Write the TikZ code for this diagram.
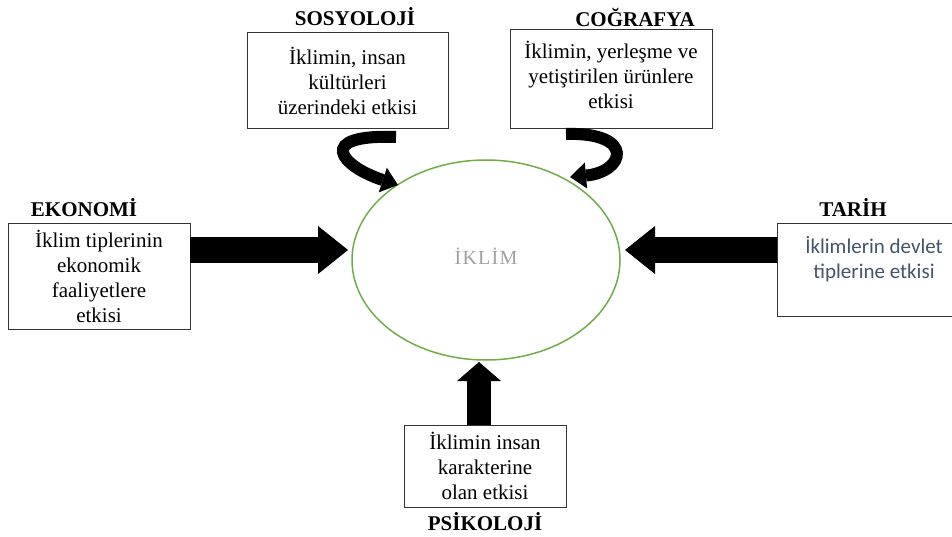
\documentclass[tikz,border=0pt]{standalone}
\usepackage{fontspec}
\setmainfont{Liberation Serif}
\newfontfamily\tnr{Liberation Serif}
\newfontfamily\calib{Carlito}
\newfontfamily\spaced[LetterSpace=6]{Liberation Serif}
\usetikzlibrary{arrows.meta,shapes.geometric}
\definecolor{grn}{RGB}{112,173,71}
\definecolor{tblue}{RGB}{68,84,106}
\definecolor{igray}{RGB}{160,160,160}
\begin{document}
\begin{tikzpicture}[x=1pt,y=-1pt,
 box/.style={draw=black!80, line width=0.9pt, align=center, inner sep=0pt, font=\tnr\fontsize{21}{25}\selectfont},
 head/.style={font=\tnr\bfseries\fontsize{21}{25}\selectfont, inner sep=0pt},
 blockarrow/.style={line width=25pt, -{Triangle[width=48pt,length=30pt,line width=0pt]}},
 curvearrow/.style={line width=12pt, -{Triangle[width=26pt,length=16pt,line width=0pt]}}]
\useasboundingbox (0,0) rectangle (952,537);

\node[box, minimum width=201pt, minimum height=96pt] (sos) at (347.5,80.5) {İklimin, insan\\kültürleri\\üzerindeki etkisi};
\node[box, minimum width=202pt, minimum height=99pt] (cog) at (611,78.5) {\raisebox{6pt}{\begin{tabular}{@{}c@{}}İklimin, yerleşme ve\\yetiştirilen ürünlere\\etkisi\end{tabular}}};
\node[box, minimum width=182pt, minimum height=106pt] (eko) at (99,276) {İklim tiplerinin\\ekonomik\\faaliyetlere\\etkisi};
\node[box, minimum width=194pt, minimum height=93pt, font=\calib\fontsize{21}{25}\selectfont, text=tblue] (tar) at (874,269.5) {İklimlerin devlet\\tiplerine etkisi\\\mbox{}};
\node[box, minimum width=162pt, minimum height=82pt] (psi) at (485,466) {İklimin insan\\karakterine\\olan etkisi};

\node[head] (hsos) at (355,17) {SOSYOLOJİ};
\node[head] (hcog) at (635,17) {COĞRAFYA};
\node[head] (heko) at (84,208) {EKONOMİ};
\node[head] (htar) at (853,208) {TARİH};
\node[head] (hpsi) at (485,522) {PSİKOLOJİ};

\node[ellipse, draw=grn, line width=1.5pt, minimum width=268pt, minimum height=200pt, inner sep=0pt, font=\spaced\fontsize{20}{24}\selectfont, text=igray] (ikl) at (486,260) {\raisebox{8pt}{İKLİM}};

\coordinate (ekoTip) at (348,250);
\draw[blockarrow] (eko.east |- ekoTip) -- (ekoTip);
\coordinate (tarTip) at (625,250);
\draw[blockarrow] (tar.west |- tarTip) -- (tarTip);
\coordinate (psiTip) at (479,362);
\draw[line width=24pt, -{Triangle[width=44pt,length=19pt,line width=0pt]}] (psi.north -| psiTip) -- (psiTip);

\coordinate (sosS) at (396,137);
\coordinate (sosT) at (398,185);
\draw[curvearrow] (sosS) .. controls (315,134) and (340,166) .. (sosT);
\coordinate (cogS) at (566,134);
\coordinate (cogT) at (570,177);
\draw[curvearrow] (cogS) .. controls (636,132) and (625,172) .. (cogT);
\end{tikzpicture}
\end{document}
